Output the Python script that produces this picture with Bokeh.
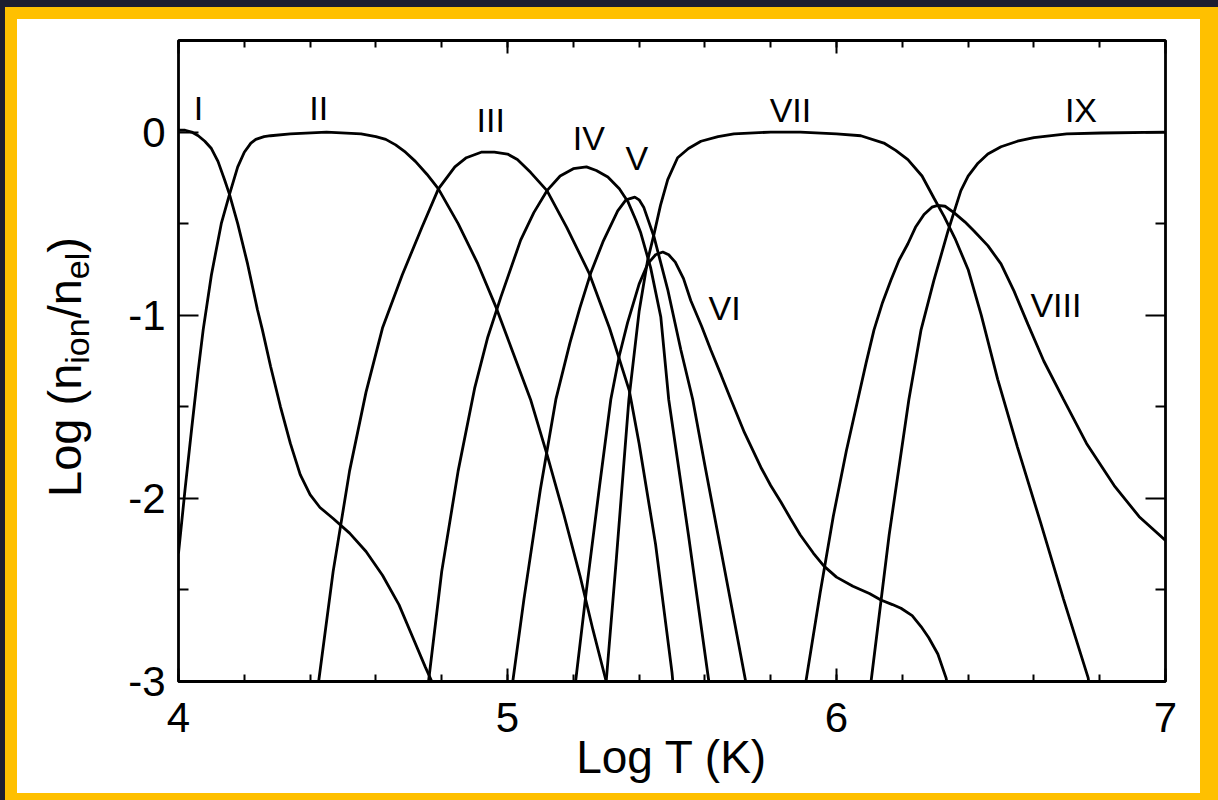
import numpy as np
from bokeh.plotting import figure
from bokeh.layouts import row
from bokeh.models import FixedTicker, LinearAxis, Range1d, ColumnDataSource, Div
from bokeh.embed import file_html
from bokeh.resources import INLINE
from bokeh.core.properties import value

# ---------------- data ----------------
ion_names = ["I", "II", "III", "IV", "V", "VI", "VII", "VIII", "IX"]

logT_I = [4.00, 4.02, 4.04, 4.06, 4.08, 4.10, 4.12, 4.14, 4.155, 4.18, 4.21, 4.24, 4.255,
          4.28, 4.31, 4.34, 4.37, 4.40, 4.43, 4.47, 4.52, 4.57, 4.62, 4.67, 4.71, 4.75, 4.77, 4.78]
frac_I = [0.01, 0.01, 0.00, -0.02, -0.05, -0.09, -0.16, -0.26, -0.34, -0.50, -0.72, -0.97, -1.08,
          -1.28, -1.50, -1.70, -1.87, -1.98, -2.05, -2.11, -2.19, -2.29, -2.42, -2.58, -2.75, -2.92, -3.0, -3.05]

logT_II = [4.00, 4.02, 4.04, 4.06, 4.075, 4.10, 4.13, 4.155, 4.18, 4.20, 4.22, 4.235, 4.26, 4.28, 4.34, 4.45,
           4.555, 4.60, 4.63, 4.66, 4.69, 4.72, 4.755, 4.79, 4.85, 4.91, 4.966, 5.02, 5.07, 5.12, 5.17,
           5.22, 5.26, 5.30, 5.31]
frac_II = [-2.30, -1.95, -1.62, -1.30, -1.08, -0.78, -0.50, -0.34, -0.19, -0.11, -0.06, -0.04, -0.025, -0.02, -0.01, 0.0,
           -0.01, -0.025, -0.04, -0.07, -0.11, -0.16, -0.23, -0.31, -0.50, -0.72, -0.96, -1.22, -1.46, -1.76, -2.08,
           -2.42, -2.72, -3.0, -3.08]

logT_III = [4.42, 4.426, 4.47, 4.52, 4.57, 4.62, 4.68, 4.74, 4.79, 4.84, 4.875, 4.92, 4.96, 5.00, 5.03,
            5.07, 5.12, 5.18, 5.248, 5.31, 5.37, 5.40, 5.45, 5.50, 5.505]
frac_III = [-3.05, -3.0, -2.40, -1.85, -1.42, -1.07, -0.78, -0.52, -0.31, -0.19, -0.14, -0.11, -0.11, -0.12, -0.15,
            -0.22, -0.32, -0.52, -0.77, -1.07, -1.41, -1.70, -2.25, -2.95, -3.05]

logT_IV = [4.755, 4.76, 4.80, 4.85, 4.90, 4.94, 4.98, 5.04, 5.08, 5.12, 5.16, 5.20, 5.24, 5.27, 5.305,
           5.34, 5.366, 5.39, 5.405, 5.435, 5.466, 5.49, 5.55, 5.612, 5.62]
frac_IV = [-3.05, -3.0, -2.40, -1.85, -1.40, -1.12, -0.90, -0.59, -0.44, -0.32, -0.24, -0.20, -0.19, -0.21, -0.245,
           -0.31, -0.38, -0.48, -0.55, -0.74, -1.01, -1.46, -2.20, -3.0, -3.1]

logT_V = [5.01, 5.016, 5.05, 5.10, 5.147, 5.19, 5.22, 5.253, 5.29, 5.335, 5.36, 5.387, 5.40, 5.414,
          5.445, 5.487, 5.527, 5.563, 5.60, 5.64, 5.68, 5.724, 5.73]
frac_V = [-3.05, -3.0, -2.55, -1.95, -1.46, -1.15, -0.96, -0.77, -0.60, -0.43, -0.37, -0.355, -0.37, -0.41,
          -0.57, -0.86, -1.19, -1.46, -1.82, -2.20, -2.58, -3.0, -3.06]

logT_VI = [5.20, 5.207, 5.24, 5.28, 5.314, 5.34, 5.365, 5.40, 5.426, 5.45, 5.472, 5.49, 5.51, 5.535, 5.557,
           5.59, 5.618, 5.65, 5.679, 5.72, 5.77, 5.80, 5.831, 5.86, 5.89, 5.93, 5.962, 6.0, 6.05, 6.10, 6.135,
           6.17, 6.196, 6.23, 6.257, 6.28, 6.308, 6.333, 6.34]
frac_VI = [-3.06, -3.0, -2.50, -1.93, -1.46, -1.22, -1.04, -0.83, -0.72, -0.67, -0.655, -0.67, -0.71, -0.80, -0.92,
           -1.06, -1.19, -1.33, -1.46, -1.64, -1.83, -1.93, -2.02, -2.11, -2.20, -2.30, -2.37, -2.43, -2.48, -2.52,
           -2.555, -2.58, -2.60, -2.64, -2.70, -2.76, -2.85, -2.98, -3.05]

logT_VII = [5.295, 5.30, 5.33, 5.369, 5.40, 5.426, 5.445, 5.465, 5.487, 5.517, 5.55, 5.588, 5.64, 5.688,
            5.80, 5.89, 6.00, 6.074, 6.144, 6.18, 6.217, 6.26, 6.296, 6.327, 6.36, 6.40, 6.44, 6.49,
            6.55, 6.62, 6.69, 6.765, 6.77]
frac_VII = [-3.05, -3.0, -2.35, -1.46, -0.98, -0.70, -0.56, -0.40, -0.26, -0.14, -0.09, -0.05, -0.025, -0.01,
            0.0, 0.0, -0.01, -0.02, -0.06, -0.10, -0.15, -0.24, -0.36, -0.46, -0.58, -0.75, -1.00, -1.35,
            -1.72, -2.13, -2.55, -2.98, -3.05]

logT_VIII = [5.90, 5.907, 5.95, 5.99, 6.03, 6.065, 6.09, 6.114, 6.14, 6.165, 6.19, 6.217, 6.24, 6.266, 6.29,
             6.308, 6.33, 6.357, 6.39, 6.418, 6.46, 6.5, 6.54, 6.582, 6.63, 6.69, 6.76, 6.844, 6.92, 7.0]
frac_VIII = [-3.05, -3.0, -2.52, -2.10, -1.74, -1.46, -1.26, -1.08, -0.93, -0.81, -0.70, -0.61, -0.52, -0.45, -0.41,
             -0.40, -0.405, -0.44, -0.49, -0.54, -0.62, -0.72, -0.87, -1.05, -1.25, -1.46, -1.70, -1.93, -2.10, -2.23]

logT_IX = [6.10, 6.105, 6.16, 6.22, 6.257, 6.296, 6.339, 6.378, 6.40, 6.43, 6.46, 6.5, 6.55, 6.6, 6.7, 6.804, 7.0]
frac_IX = [-3.05, -3.0, -2.20, -1.46, -1.08, -0.81, -0.54, -0.32, -0.24, -0.17, -0.12, -0.08, -0.05, -0.03, -0.01, -0.005, 0.0]

# where the ion names sit (data units)
name_x = [4.061, 4.426, 4.949, 5.247, 5.393, 5.66, 5.86, 6.667, 6.743]
name_y = [0.13, 0.13, 0.066, -0.03, -0.14, -0.96, 0.12, -0.945, 0.12]

x_major = [4, 5, 6, 7]
x_tick_labels = ["4", "5", "6", "7"]
y_major = [-3, -2, -1, 0]
y_tick_labels = ["-3", "-2", "-1", "0"]

series = [(logT_I, frac_I), (logT_II, frac_II), (logT_III, frac_III), (logT_IV, frac_IV),
          (logT_V, frac_V), (logT_VI, frac_VI), (logT_VII, frac_VII), (logT_VIII, frac_VIII),
          (logT_IX, frac_IX)]

# ---------------- styling constants ----------------
FONT = "Liberation Sans"
DARK = "#1e1e30"
YEL = "#FFC000"
LW = 110          # width of the y-title strip
W, H = 1218 - LW, 800

# ---------------- main figure ----------------
p = figure(width=W, height=H, x_range=Range1d(4, 7), y_range=Range1d(-3, 0.5),
           output_backend="svg", toolbar_location=None,
           min_border_left=178 - LW, min_border_right=53, min_border_top=40, min_border_bottom=119,
           background_fill_color="white", border_fill_color=None)
p.styles = {"box-shadow": f"inset 0 7px 0 0 {DARK}, inset 0 19px 0 0 {YEL}, "
                          f"inset -18px 0 0 0 {YEL}, inset 0 -7px 0 0 {YEL}",
            "background-color": "white"}
p.grid.visible = False
p.outline_line_color = "black"
p.outline_line_width = 2.8

x_minor = [round(4 + 0.2 * i, 2) for i in range(16)]
y_minor = [-2.5, -1.5, -0.5]
xt = FixedTicker(ticks=x_major, minor_ticks=x_minor)
yt = FixedTicker(ticks=y_major, minor_ticks=y_minor)


def style_ticks(ax, major, minor):
    ax.axis_line_color = None
    ax.major_tick_in = major
    ax.major_tick_out = 0
    ax.minor_tick_in = minor
    ax.minor_tick_out = 0
    ax.major_tick_line_width = 2
    ax.minor_tick_line_width = 2
    ax.major_tick_line_color = "black"
    ax.minor_tick_line_color = "black"


def hide_labels(ax, ticks):
    ax.major_label_text_font_size = "1px"
    ax.major_label_overrides = {t: "" for t in ticks}
    ax.major_label_standoff = 0


bx = p.xaxis[0]
bx.ticker = xt
style_ticks(bx, 13, 7)
bx.major_label_overrides = dict(zip(x_major, x_tick_labels))
bx.major_label_text_font = FONT
bx.major_label_text_font_size = "42px"
bx.major_label_text_color = "black"
bx.major_label_standoff = 21
bx.axis_label = "Log T (K)"
bx.axis_label_text_font = FONT
bx.axis_label_text_font_size = "46px"
bx.axis_label_text_font_style = "normal"
bx.axis_label_text_color = "black"
bx.axis_label_standoff = -4

ly = p.yaxis[0]
ly.ticker = yt
style_ticks(ly, 20, 10)
ly.major_label_overrides = dict(zip(y_major, y_tick_labels))
ly.major_label_text_font = FONT
ly.major_label_text_font_size = "42px"
ly.major_label_text_color = "black"
ly.major_label_standoff = 13
ly.major_label_orientation = "horizontal"

top = LinearAxis(ticker=xt)
style_ticks(top, 13, 7)
hide_labels(top, x_major)
p.add_layout(top, "above")

right = LinearAxis(ticker=yt)
style_ticks(right, 20, 10)
hide_labels(right, y_major)
p.add_layout(right, "right")

for xs, ys in series:
    p.line(xs, ys, line_color="black", line_width=2.8)

src = ColumnDataSource(dict(x=name_x, y=name_y, t=ion_names))
p.text(x="x", y="y", text="t", source=src, text_font=value(FONT), text_font_size="34px",
       text_align="center", text_baseline="middle", text_color="black")

# ---------------- y title strip: HTML with real subscripts, rotated ----------------
sub = "font-size:34px;vertical-align:-8px;line-height:0;"
html = ('<div style="width:%dpx;height:%dpx;display:flex;align-items:center;justify-content:center;'
        'overflow:visible;">'
        '<span style="display:inline-block;flex-shrink:0;transform:translate(10px,-33px) rotate(-90deg);'
        "font-family:'Liberation Sans';font-size:47px;line-height:46px;white-space:nowrap;color:black;\">"
        'Log (n<sub style="%s">ion</sub>/n<sub style="%s">el</sub>)</span></div>') % (LW, H, sub, sub)
ytitle = Div(text=html, width=LW, height=H, margin=0,
             styles={"box-shadow": f"inset 0 7px 0 0 {DARK}, inset 5px 0 0 0 {DARK}, "
                                   f"inset 0 19px 0 0 {YEL}, inset 17px 0 0 0 {YEL}, inset 0 -7px 0 0 {YEL}",
                     "background-color": "white"})

layout = row(ytitle, p)
open("out.html", "w").write(file_html(layout, INLINE))
